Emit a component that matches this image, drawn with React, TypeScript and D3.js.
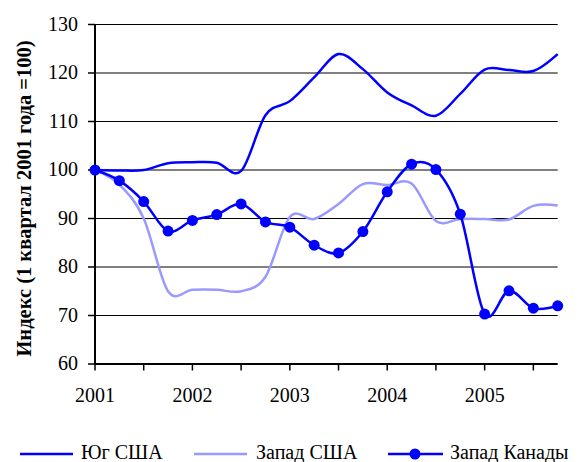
import React from "react";
import * as d3 from "d3";

const quarters = d3.range(20); // 2001Q1 .. 2005Q4
const yearLabels = ["2001", "2002", "2003", "2004", "2005"];
const yTicks = [60, 70, 80, 90, 100, 110, 120, 130];

const southUS = [100, 99.9, 100, 101.4, 101.6, 101.5, 99.8, 111.3, 114.2, 119.1, 123.9, 120.8, 116, 113.3, 111.2, 115.7, 120.7, 120.6, 120.4, 123.9];
const westUS = [100, 97, 90, 75, 75.3, 75.3, 75, 78, 90.3, 89.9, 93, 97.1, 96.9, 97.2, 89.5, 89.9, 89.9, 89.8, 92.6, 92.7];
const westCanada = [100, 97.8, 93.5, 87.4, 89.6, 90.8, 93, 89.3, 88.2, 84.5, 82.9, 87.3, 95.5, 101.2, 100.1, 90.9, 70.3, 75.1, 71.5, 72];

const legendNames = ["Юг США", "Запад США", "Запад Канады"];

export default function App() {
  const x = d3.scaleLinear().domain([0, 19]).range([95, 557.7]);
  const y = d3.scaleLinear().domain([60, 130]).range([364, 24.5]);
  const line = d3
    .line<number>()
    .x((_, i) => x(i))
    .y((d) => y(d))
    .curve(d3.curveCardinal.tension(0));

  const blue = "#0000FF";
  const light = "#9999FF";
  const font = '"Liberation Serif", "Times New Roman", serif';
  const ts: React.CSSProperties = { fontFamily: font, fontSize: "20px" };

  return (
    <svg width={579} height={462} style={{ position: "absolute", left: 0, top: 0 }}>
      {/* gridlines */}
      {yTicks.slice(1).map((t) => (
        <line key={t} x1={95} x2={557.7} y1={y(t)} y2={y(t)} stroke="#000" strokeWidth={1} />
      ))}
      {/* y axis */}
      <line x1={95} x2={95} y1={24} y2={365} stroke="#000" strokeWidth={2} />
      {yTicks.map((t) => (
        <g key={t}>
          <line x1={88} x2={95} y1={y(t)} y2={y(t)} stroke="#000" strokeWidth={1.5} />
          <text x={78} y={y(t) + 6.3} textAnchor="end" style={ts}>
            {t}
          </text>
        </g>
      ))}
      {/* x axis */}
      <line x1={94} x2={557.7} y1={364} y2={364} stroke="#000" strokeWidth={2} />
      {quarters
        .filter((q) => q % 2 === 0)
        .map((q) => (
          <line key={q} x1={x(q)} x2={x(q)} y1={364} y2={370.5} stroke="#000" strokeWidth={1.5} />
        ))}
      {yearLabels.map((lab, i) => (
        <text key={lab} x={x(i * 4)} y={402} textAnchor="middle" style={ts}>
          {lab}
        </text>
      ))}
      {/* y axis title */}
      <text
        transform={`translate(31,198.5) rotate(-90)`}
        textAnchor="middle"
        style={{ ...ts, fontSize: "20.5px", fontWeight: "bold" }}
      >
        Индекс (1 квартал 2001 года =100)
      </text>
      {/* series */}
      <path d={line(westUS) || ""} fill="none" stroke={light} strokeWidth={2.5} />
      <path d={line(southUS) || ""} fill="none" stroke={blue} strokeWidth={2.5} />
      <path d={line(westCanada) || ""} fill="none" stroke={blue} strokeWidth={2.5} />
      {westCanada.map((v, i) => (
        <circle key={i} cx={x(i)} cy={y(v)} r={5.5} fill={blue} />
      ))}
      {/* legend */}
      <g>
        <line x1={20} x2={73} y1={454} y2={454} stroke={blue} strokeWidth={2.5} />
        <text x={81} y={458.5} style={ts}>{legendNames[0]}</text>
        <line x1={194} x2={247} y1={454} y2={454} stroke={light} strokeWidth={2.5} />
        <text x={256} y={458.5} style={ts}>{legendNames[1]}</text>
        <line x1={388} x2={443} y1={454} y2={454} stroke={blue} strokeWidth={2.5} />
        <circle cx={415} cy={454} r={5.5} fill={blue} />
        <text x={450} y={458.5} style={ts}>{legendNames[2]}</text>
      </g>
    </svg>
  );
}
